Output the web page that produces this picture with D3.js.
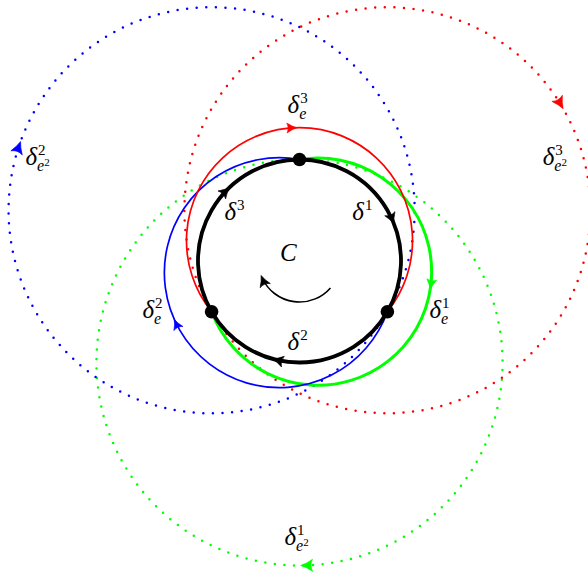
<!DOCTYPE html>
<html>
<head>
<meta charset="utf-8">
<script src="https://cdn.jsdelivr.net/npm/d3@7"></script>
<style>
  body { margin: 0; background: #fff; }
  svg { display: block; }
  .lbl { font-family: "Liberation Serif", "DejaVu Serif", serif; fill: #000; }
</style>
</head>
<body>
<div id="chart"></div>
<script>
// ---- data (unit = radius of the black circle C, centre at 0,0, y up) ----

// nodes on C, in degrees
const nodeAngles = [90, 210, 330];

// black arcs delta^1..3 : start node, end node, arrow angle
const pathNames = ["δ1", "δ2", "δ3"];
const pathStart = [0, 2, 1];
const pathEnd = [2, 1, 0];
const pathArrow = [22, -105, 134];

// solid coloured arcs delta_e^1..3 : circle centre, start/end node, arrow angle
const edgeNames = ["δe1", "δe2", "δe3"];
const edgeCx = [0.182, -0.199, 0];
const edgeCy = [-0.105, -0.115, 0.2];
const edgeStart = [0, 2, 1];
const edgeEnd = [1, 0, 2];
const edgeArrow = [-8.5, 204.5, 91.8];

// dotted circles delta_{e^2}^1..3 : centre, radius, touching node, arrow angle
const loopNames = ["δe²1", "δe²2", "δe²3"];
const loopCx = [0, -0.866, 0.866];
const loopCy = [-1, 0.5, 0.5];
const loopR = [2, 2, 2];
const loopNode = [0, 2, 1];
const loopArrow = [-89.4, 160.5, 30.3];

// orientation arrow in the middle
const turnR = 0.404;
const turnFrom = -41;
const turnTo = -158;

// labels
const labelMain = ["δ", "δ", "δ", "δ", "δ", "δ", "δ", "δ", "δ", "C"];
const labelSup = ["3", "3", "1", "1", "2", "2", "2", "3", "1", ""];
const labelSub = ["e", "", "", "e", "e", "", "e2", "e2", "e2", ""];
const labelU = [-0.118, -0.74, 0.52, 1.28, -1.548, -0.118, -2.70, 2.396, -0.148, -0.192];
const labelV = [1.458, 0.404, 0.404, -0.562, -0.562, -0.877, 0.946, 0.946, -2.798, 0];

const colors = ["#00ff00", "#0000ff", "#ff0000"];

// ---- drawing ----
const W = 588, H = 573;

const svg = d3.select("#chart")
    .append("svg")
    .attr("width", W)
    .attr("height", H);

const xScale = d3.scaleLinear().domain([-1, 1]).range([198, 401]);
const yScale = d3.scaleLinear().domain([-1, 1]).range([362.5, 159.5]);
const unit = xScale(1) - xScale(0);
const rad = a => a * Math.PI / 180;
const deg = a => a * 180 / Math.PI;

const nodes = nodeAngles.map(a => [Math.cos(rad(a)), Math.sin(rad(a))]);

function angleTo(cx, cy, p) {
    return deg(Math.atan2(p[1] - cy, p[0] - cx));
}

// clockwise (on screen) arc from angle a0 to a1
function arcPath(cx, cy, r, a0, a1) {
    let end = a1;
    while (end > a0) end -= 360;
    while (end < a0 - 360) end += 360;
    const p = d3.path();
    p.arc(xScale(cx), yScale(cy), r * unit, -rad(a0), -rad(end), false);
    return p.toString();
}

function arrowHead(g, cx, cy, r, a, color, size) {
    const x = xScale(cx + r * Math.cos(rad(a)));
    const y = yScale(cy + r * Math.sin(rad(a)));
    const rot = deg(Math.atan2(Math.cos(rad(a)), Math.sin(rad(a))));
    const L = size, w = size * 0.55;
    g.append("path")
        .attr("d", `M1,0 Q${-L * 0.45},${-w * 0.3} ${-L},${-w} Q${-L * 0.7},0 ${-L},${w} Q${-L * 0.45},${w * 0.3} 1,0 Z`)
        .attr("transform", `translate(${x},${y}) rotate(${rot})`)
        .attr("fill", color)
        .attr("stroke", color)
        .attr("stroke-width", 0.6)
        .attr("stroke-linejoin", "round");
}

// dotted circles
const loops = svg.append("g");
loopNames.forEach((name, i) => {
    const a0 = angleTo(loopCx[i], loopCy[i], nodes[loopNode[i]]);
    loops.append("path")
        .attr("d", arcPath(loopCx[i], loopCy[i], loopR[i], a0, a0 - 360))
        .attr("fill", "none")
        .attr("stroke", colors[i])
        .attr("stroke-width", 2.5)
        .attr("stroke-linecap", "round")
        .attr("stroke-dasharray", "0 9.6");
    arrowHead(loops, loopCx[i], loopCy[i], loopR[i], loopArrow[i], colors[i], 11);
});

// solid coloured arcs
const edges = svg.append("g");
edgeNames.forEach((name, i) => {
    const p0 = nodes[edgeStart[i]], p1 = nodes[edgeEnd[i]];
    const r = Math.hypot(p0[0] - edgeCx[i], p0[1] - edgeCy[i]);
    edges.append("path")
        .attr("d", arcPath(edgeCx[i], edgeCy[i], r,
            angleTo(edgeCx[i], edgeCy[i], p0), angleTo(edgeCx[i], edgeCy[i], p1)))
        .attr("fill", "none")
        .attr("stroke", colors[i])
        .attr("stroke-width", i === 0 ? 3 : 1.7);
    arrowHead(edges, edgeCx[i], edgeCy[i], r, edgeArrow[i], colors[i], 9);
});

// black circle C, split in three paths
const paths = svg.append("g");
pathNames.forEach((name, i) => {
    paths.append("path")
        .attr("d", arcPath(0, 0, 1, nodeAngles[pathStart[i]], nodeAngles[pathEnd[i]]))
        .attr("fill", "none")
        .attr("stroke", "#000")
        .attr("stroke-width", 3.8);
    arrowHead(paths, 0, 0, 1, pathArrow[i], "#000", 10);
});

// turning arrow
svg.append("path")
    .attr("d", arcPath(0, 0, turnR, turnFrom, turnTo + 4))
    .attr("fill", "none")
    .attr("stroke", "#000")
    .attr("stroke-width", 1.6);
arrowHead(svg, 0, 0, turnR, turnTo, "#000", 10);

// nodes
svg.selectAll("circle.node")
    .data(nodes)
    .enter()
    .append("circle")
    .attr("class", "node")
    .attr("cx", d => xScale(d[0]))
    .attr("cy", d => yScale(d[1]))
    .attr("r", 6.8)
    .attr("fill", "#000");

// labels
labelMain.forEach((t, i) => {
    const x = xScale(labelU[i]), y = yScale(labelV[i]);
    const main = svg.append("text")
        .attr("class", "lbl")
        .attr("x", x)
        .attr("y", y)
        .style("font-size", "25px")
        .style("font-style", "italic")
        .text(t);
    const w = main.node().getComputedTextLength();
    if (labelSup[i]) {
        svg.append("text")
            .attr("class", "lbl")
            .attr("x", x + w + 1)
            .attr("y", y - 10)
            .style("font-size", "15px")
            .style("font-style", "normal")
            .text(labelSup[i]);
    }
    if (labelSub[i]) {
        const sub = svg.append("text")
            .attr("class", "lbl")
            .attr("x", x + w)
            .attr("y", y + 6)
            .style("font-size", "16px")
            .style("font-style", "italic")
            .text(labelSub[i][0]);
        if (labelSub[i].length > 1) {
            sub.append("tspan")
                .attr("dy", -5)
                .style("font-size", "11px")
                .style("font-style", "normal")
                .text(labelSub[i].slice(1));
        }
    }
});
</script>
</body>
</html>
